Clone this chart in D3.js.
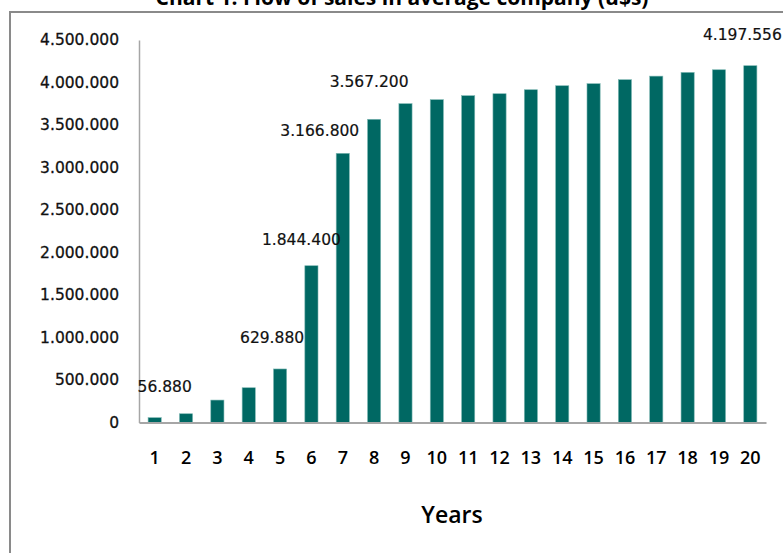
<!DOCTYPE html>
<html>
<head>
<meta charset="utf-8">
<script src="https://cdn.jsdelivr.net/npm/d3@7"></script>
<style>
  body { margin: 0; background: #fff; }
  svg { display: block; }
</style>
</head>
<body>
<div id="chart"></div>
<script>
// sales per year (u$s)
var years = ["1", "2", "3", "4", "5", "6", "7", "8", "9", "10",
             "11", "12", "13", "14", "15", "16", "17", "18", "19", "20"];
var sales = [56880, 103000, 264000, 409000, 629880, 1844400, 3166800, 3567200, 3751000, 3798000,
             3845000, 3868000, 3915000, 3962000, 3986000, 4033000, 4075000, 4119000, 4150000, 4197556];
var yTicks = [0, 500000, 1000000, 1500000, 2000000, 2500000, 3000000, 3500000, 4000000, 4500000];
var labelled = ["1", "5", "6", "7", "8", "20"];

var title = "Chart 1. Flow of sales in average company (u$s)",
    xTitle = "Years";

function salesChart() {

    var width = 783,
        height = 553;

    var data = years.map(function (y, i) {
        return { year: y, value: sales[i] };
    });

    // data labels sit a bit off the bars in the original, nudge them by hand
    var nudge = {
        "1": [10, -31], "5": [-8, -31], "6": [-10, -26],
        "7": [-23, -23], "8": [-5, -38], "20": [-8, -31]
    };

    var fmt = d3.formatLocale({ decimal: ",", thousands: ".", grouping: [3], currency: ["", ""] }).format(",");

    var svg = d3.select("#chart")
        .append("svg")
        .attr("width", width)
        .attr("height", height);

    // outer frame (runs off the picture on the right and bottom)
    svg.append("rect")
        .attr("x", 10)
        .attr("y", 12)
        .attr("width", 900)
        .attr("height", 700)
        .style("fill", "none")
        .style("stroke", "#8a8a8a")
        .style("stroke-width", 2);

    // title is cropped at the top edge, same as the source picture
    svg.append("text")
        .attr("x", 402)
        .attr("y", 5)
        .text(title)
        .style("text-anchor", "middle")
        .style("font-family", "'Open Sans', sans-serif")
        .style("font-weight", "bold")
        .style("font-size", "21px")
        .style("fill", "#000");

    var xScale = d3.scaleBand()
        .domain(years)
        .range([139, 766])
        .paddingInner(0.58)
        .paddingOuter(0.29);

    var yScale = d3.scaleLinear()
        .domain([0, 4500000])
        .range([422.5, 40]);

    var yAxis = svg.append("g")
        .attr("transform", "translate(139,0)")
        .call(d3.axisLeft(yScale)
            .tickValues(yTicks)
            .tickFormat(fmt)
            .tickSize(0)
            .tickPadding(20));

    yAxis.select(".domain")
        .style("stroke", "#a6a6a6")
        .style("stroke-width", 1.5);

    yAxis.selectAll("text")
        .style("font-family", "'DejaVu Sans', sans-serif")
        .style("font-size", "15.5px")
        .style("fill", "#111")
        .style("stroke", "#111")
        .style("stroke-width", 0.3);

    svg.append("g")
        .selectAll(".bar")
        .data(data)
        .enter()
        .append("rect")
        .attr("class", "bar")
        .attr("x", function (d) {
            return xScale(d.year);
        })
        .attr("y", function (d) {
            return yScale(d.value);
        })
        .attr("width", xScale.bandwidth())
        .attr("height", function (d) {
            return yScale(0) - yScale(d.value);
        })
        .style("fill", "#006863")
        .style("stroke", "#7fb8b4")
        .style("stroke-width", 0.6);

    var xAxis = svg.append("g")
        .attr("transform", "translate(0," + yScale(0) + ")")
        .call(d3.axisBottom(xScale)
            .tickSize(0)
            .tickPadding(29));

    xAxis.select(".domain")
        .style("stroke", "#a6a6a6")
        .style("stroke-width", 2);

    xAxis.selectAll("text")
        .style("font-family", "'Open Sans', sans-serif")
        .style("font-weight", "600")
        .style("font-size", "18px")
        .style("fill", "#000");

    svg.append("g")
        .selectAll(".lbl")
        .data(data.filter(function (d) { return labelled.includes(d.year); }))
        .enter()
        .append("text")
        .attr("class", "lbl")
        .attr("x", function (d) {
            return xScale(d.year) + xScale.bandwidth() / 2 + nudge[d.year][0];
        })
        .attr("y", function (d) {
            return yScale(d.value) + nudge[d.year][1];
        })
        .attr("dy", "0.35em")
        .text(function (d) { return fmt(d.value); })
        .style("text-anchor", "middle")
        .style("font-family", "'DejaVu Sans', sans-serif")
        .style("font-size", "15.5px")
        .style("fill", "#111")
        .style("stroke", "#111")
        .style("stroke-width", 0.2);

    svg.append("text")
        .attr("x", 452)
        .attr("y", 515)
        .attr("dy", "0.35em")
        .text(xTitle)
        .style("text-anchor", "middle")
        .style("font-family", "'Open Sans', sans-serif")
        .style("font-weight", "600")
        .style("font-size", "23px")
        .style("fill", "#000");
}

salesChart();
</script>
</body>
</html>
